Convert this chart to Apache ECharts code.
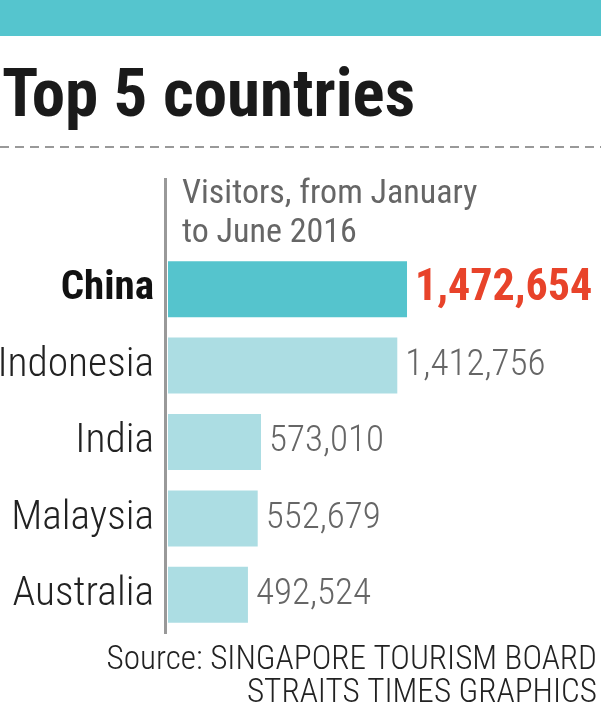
<!DOCTYPE html>
<html><head><meta charset="utf-8">
<script src="https://cdn.jsdelivr.net/npm/echarts@6/dist/echarts.min.js"></script>
<style>html,body{margin:0;padding:0;background:#fff}#c{width:601px;height:715px}</style>
</head><body><div id="c"></div>
<script>
const categories = ['China', 'Indonesia', 'India', 'Malaysia', 'Australia'];
const visitors = [1472654, 1412756, 573010, 552679, 492524];
const highlight = 'China';
const titleText = 'Top 5 countries';
const subtitleLines = ['Visitors, from January', 'to June 2016'];
const sourceLines = ['Source: SINGAPORE TOURISM BOARD', 'STRAITS TIMES GRAPHICS'];

const F = '"Roboto Condensed", "Liberation Sans Narrow", "DejaVu Sans Condensed", sans-serif';
const chart = echarts.init(document.getElementById('c'), null, {renderer: 'canvas'});
const fmt = v => v.toLocaleString('en-US');

chart.setOption({
  animation: false,
  backgroundColor: '#fff',
  grid: {left: 168, right: 108.4, top: 251, height: 382, containLabel: false, outerBoundsMode: 'none'},
  xAxis: {type: 'value', min: 0, max: 2000000, show: false},
  yAxis: {
    type: 'category', inverse: true, data: categories,
    axisLine: {show: false}, axisTick: {show: false},
    axisLabel: {
      margin: 14, fontFamily: F,
      formatter: v => v === highlight ? '{h|' + v + '}' : '{n|' + v + '}',
      rich: {
        h: {fontFamily: F, fontSize: 41, fontWeight: 'bold', color: '#111'},
        n: {fontFamily: F, fontSize: 41.5, fontWeight: 300, color: '#222'}
      }
    }
  },
  series: [{
    type: 'bar', barWidth: 56,
    data: visitors.map((v, i) => ({
      value: v,
      itemStyle: {color: categories[i] === highlight ? '#55C4CD' : '#ACDDE3'},
      label: categories[i] === highlight
        ? {fontSize: 44, fontWeight: 'bold', color: '#E8432A'}
        : {fontSize: 37, fontWeight: 300, color: '#666'}
    })),
    label: {show: true, position: 'right', distance: 8, fontFamily: F,
      formatter: p => fmt(p.value)}
  }],
  graphic: [
    {type: 'rect', left: 0, top: 0, shape: {width: 601, height: 36}, style: {fill: '#55C5CE'}},
    {type: 'text', left: 2, top: 66, style: {text: titleText, fontFamily: F, fontWeight: 'bold', fontSize: 67, fill: '#1a1a1a'}},
    {type: 'line', shape: {x1: 0, y1: 147, x2: 601, y2: 147}, style: {stroke: '#999', lineWidth: 2, lineDash: [9, 6]}},
    {type: 'line', shape: {x1: 165.5, y1: 178, x2: 165.5, y2: 634}, style: {stroke: '#999', lineWidth: 3}},
    {type: 'text', left: 182, top: 175, style: {text: subtitleLines.join('\n'), fontFamily: F, fontSize: 34, lineHeight: 39, fill: '#666'}},
    {type: 'text', right: 4, top: 644, style: {text: sourceLines[0], fontFamily: F, fontSize: 33.2, fontWeight: 300, fill: '#222'}},
    {type: 'text', right: 4, top: 677, style: {text: sourceLines[1], fontFamily: F, fontSize: 33.2, fontWeight: 300, fill: '#222'}}
  ]
});
</script></body></html>
